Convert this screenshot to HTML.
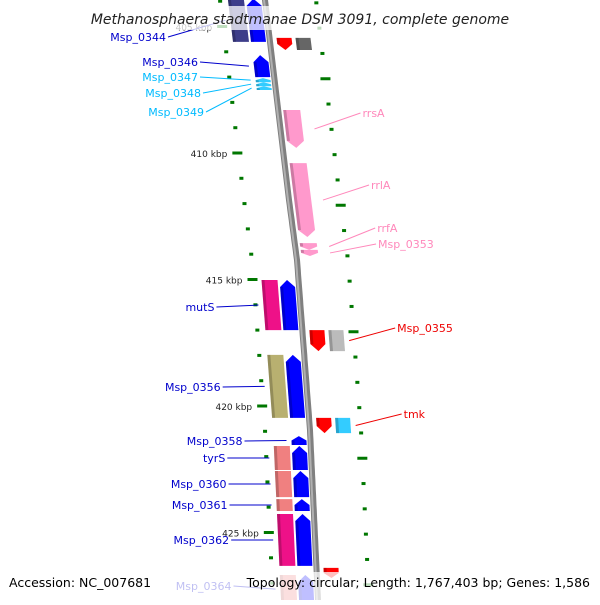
<!DOCTYPE html>
<html><head><meta charset="utf-8"><style>
body{margin:0;background:#fff}
svg text{font-family:"DejaVu Sans","Liberation Sans",sans-serif}
</style></head><body>
<svg id="chart" width="600" height="600" viewBox="0 0 600 600" xmlns="http://www.w3.org/2000/svg">
<g id="ticks"></g>
<g id="backbone"></g>
<g id="genes"></g>
<g id="labels"></g>
<rect x="0" y="6" width="600" height="24" fill="#fff" opacity="0.75"/>
<text x="300" y="24" text-anchor="middle" font-size="14" font-style="italic" fill="#222">Methanosphaera stadtmanae DSM 3091, complete genome</text>
<rect x="0" y="572" width="600" height="28" fill="#fff" opacity="0.75"/>
<text x="9" y="587" font-size="12.5" fill="#000">Accession: NC_007681</text>
<text x="590" y="587" text-anchor="end" font-size="12.5" fill="#000">Topology: circular; Length: 1,767,403 bp; Genes: 1,586</text>
</svg>
<script>
const tickKbp=[405,410,415,420,425];
const tickLabels=["405 kbp","410 kbp","415 kbp","420 kbp","425 kbp"];
const geneNames=["Msp_0344","Msp_0346","Msp_0347","Msp_0348","Msp_0349","top_r","rrsA","rrlA","rrfA","Msp_0353","mutS","Msp_0355","Msp_0356","tmk","Msp_0358","tyrS","Msp_0360","Msp_0361","Msp_0362","Msp_0364","bot_r"];
const geneStart=[403.9,406.13,407.04,407.2,407.36,405.45,408.3,410.4,413.56,413.83,415.02,417.0,417.98,420.47,421.19,421.58,422.57,423.68,424.27,426.68,426.4];
const geneEnd=[405.61,407.0,407.2,407.36,407.51,405.93,409.8,413.32,413.83,414.07,417.0,417.83,420.47,421.07,421.54,422.53,423.6,424.15,426.32,427.8,426.8];
const geneStrand=[1,1,1,1,1,-1,-1,-1,-1,-1,1,-1,1,-1,1,1,1,1,1,1,-1];
const geneColor=["#0000ff","#0000ff","#33ccff","#33ccff","#33ccff","#ff0000","#ff99cc","#ff99cc","#ff99cc","#ff99cc","#0000ff","#ff0000","#0000ff","#ff0000","#0000ff","#0000ff","#0000ff","#0000ff","#0000ff","#0000ff","#ff0000"];
const cogColor=["#3d3d8a","","","","","#666666","","","","","#ee1188","#bbbbbb","#b8b070","#33ccff","","#f08080","#f08080","#f08080","#ee1188","#f08080",""];
const labelText=["Msp_0344","Msp_0346","Msp_0347","Msp_0348","Msp_0349","","rrsA","rrlA","rrfA","Msp_0353","mutS","Msp_0355","Msp_0356","tmk","Msp_0358","tyrS","Msp_0360","Msp_0361","Msp_0362","Msp_0364",""];
const labelY=[41,66,81,97,116,0,117,189,232,248,311,332,391,418,445,462,488,509,544,590,0];
const labelColor=["#0000cc","#0000cc","#00bbff","#00bbff","#00bbff","","#ff88bb","#ff88bb","#ff88bb","#ff88bb","#0000cc","#ee0000","#0000cc","#ee0000","#0000cc","#0000cc","#0000cc","#0000cc","#0000cc","#0000cc",""];

const NS="http://www.w3.org/2000/svg";
function yOf(k){return 153+(k-410)*25.3;}
const bbPts=[[0,265],[200,289],[260,297],[430,310],[600,318]];
function bb(y){for(let i=1;i<bbPts.length;i++){if(y<=bbPts[i][0]||i==bbPts.length-1){const a=bbPts[i-1],b=bbPts[i];return a[1]+(b[1]-a[1])*(y-a[0])/(b[0]-a[0]);}}}
function mk(tag,attrs,parent){const e=document.createElementNS(NS,tag);for(const k in attrs)e.setAttribute(k,attrs[k]);parent.appendChild(e);return e;}
const P=(x,y)=>x.toFixed(1)+","+y.toFixed(1);

// backbone
const gb=document.getElementById('backbone');
let d="";for(let y=-5;y<=605;y+=5)d+=(y==-5?"M":"L")+P(bb(y),y);
let bl=mk('path',{d:d,stroke:"#808080","stroke-width":6,fill:"none"},gb);

let bl2=mk('path',{d:d,stroke:"#b0b0b0","stroke-width":2,fill:"none",transform:"translate(-1,0)"},gb);


// ticks
const gt=document.getElementById('ticks');
for(let k=403;k<=428;k++){
  const major=(k%5==0);
  const yl=yOf(k), yr=yOf(k)-11;
  const xl=bb(yl), xr=bb(yr);
  let t=mk('rect',major?{x:xl-51,y:yl-1.5,width:10,height:3,fill:"#007700"}:{x:xl-47,y:yl-1.5,width:4,height:3,fill:"#007700"},gt);
  
  let kr=k+0.5;
  const yr2=yOf(kr)-11+ (0), xr2=bb(yr2);
  let r=mk('rect',(k%5==2)?{x:xr2+46,y:yr2-1.5,width:10,height:3,fill:"#007700"}:{x:xr2+49,y:yr2-1.5,width:4,height:3,fill:"#007700"},gt);
  
}
tickKbp.forEach((k,i)=>{const y=yOf(k);const t=mk('text',{x:bb(y)-56,y:y+4,"text-anchor":"end","font-size":9,fill:"#222"},gt);t.textContent=tickLabels[i];
  });

// genes
const gg=document.getElementById('genes');
function band(y1,y2,o1,o2,fill,arrow){
  // arrow: 1 head at top, -1 head at bottom, 0 none
  const h=Math.min(7,(y2-y1)*0.5);
  let pts=[];
  const c=(o,y)=>P(bb(y)+o,y);
  const om=(o1+o2)/2;
  if(arrow==1){pts=[c(o1,y2),c(o2,y2),c(o2,y1+h),c(om,y1),c(o1,y1+h)];}
  else if(arrow==-1){pts=[c(o1,y1),c(o2,y1),c(o2,y2-h),c(om,y2),c(o1,y2-h)];}
  else pts=[c(o1,y1),c(o2,y1),c(o2,y2),c(o1,y2)];
  const p=mk('polygon',{points:pts.join(" "),fill:fill},gg);
  // shading strip
  const s=mk('polygon',{points:[c(o1,arrow==1?y1+h:y1),c(o1+3,arrow==1?y1+h:y1),c(o1+3,arrow==-1?y2-h:y2),c(o1,arrow==-1?y2-h:y2)].join(" "),fill:"#000",opacity:0.2},gg);
  
  return p;
}
geneNames.forEach((n,i)=>{
  const y1=yOf(geneStart[i]),y2=yOf(geneEnd[i]);
  const fw=geneStrand[i]==1;
  const isRna=geneColor[i]=="#ff99cc";
  const o1=fw?-19:(isRna?5:7), o2=fw?-4:(isRna?22:22);
  const p=band(y1,y2,o1,o2,geneColor[i],fw?1:-1);
  
  
  if(cogColor[i]){
    const c1=fw?-37:26, c2=fw?-21:41;
    const q=band(y1,y2,c1,c2,cogColor[i],0);
    
    
  }
});

// labels
const gl=document.getElementById('labels');
geneNames.forEach((n,i)=>{
  if(!labelText[i])return;
  const fw=geneStrand[i]==1;
  const gy=(yOf(geneStart[i])+yOf(geneEnd[i]))/2;
  const ly=labelY[i];
  let tx,lx1,lx2,gyy=gy;
  if(fw){const gx=bb(gy)-(cogColor[i]?42:24);tx=gx-42-(i>=2&&i<=4?2:0);
    if(i<=4){tx=[166,198,198,201,204][i];}
    else tx=gx-44;
    const ln=mk('line',{x1:tx+2,y1:ly-4,x2:gx,y2:gyy,stroke:labelColor[i],"stroke-width":1},gl);
    
    const t=mk('text',{x:tx,y:ly,"text-anchor":"end","font-size":11,fill:labelColor[i]},gl);t.textContent=labelText[i];
    
  } else {
    const gx=bb(gy)+(cogColor[i]?46:34);tx=gx+48;
    const ln=mk('line',{x1:gx,y1:gyy,x2:tx-2,y2:ly-4,stroke:labelColor[i],"stroke-width":1},gl);
    
    const t=mk('text',{x:tx,y:ly,"font-size":11,fill:labelColor[i]},gl);t.textContent=labelText[i];
    
  }
});
</script>
</body></html>
